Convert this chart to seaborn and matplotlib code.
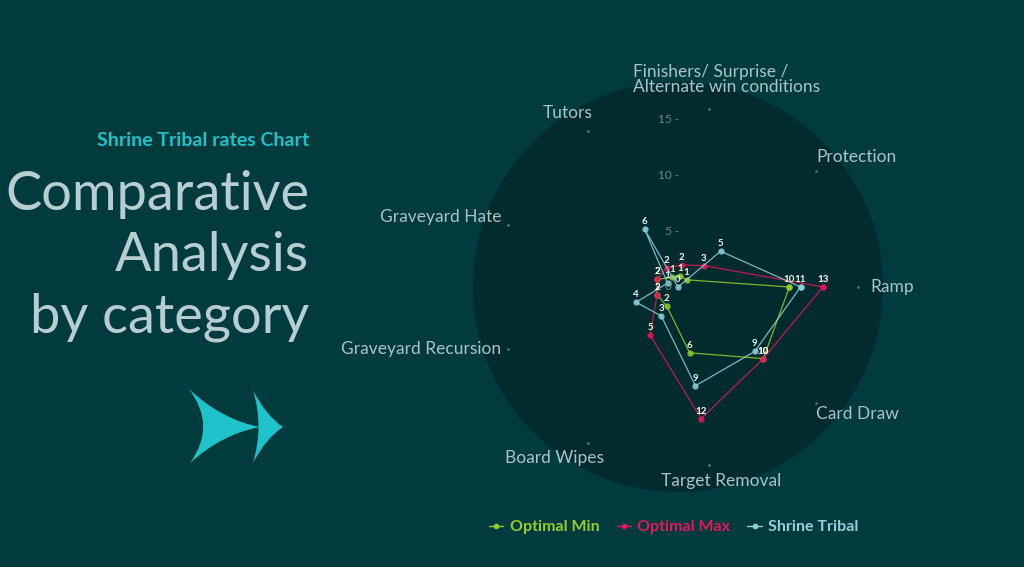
import numpy as np
import pandas as pd
import matplotlib
matplotlib.use('Agg')
import matplotlib.pyplot as plt
import seaborn as sns
from matplotlib.lines import Line2D
from matplotlib.path import Path
from matplotlib.patches import PathPatch

# categories, counter-clockwise starting at the right
CATEGORIES = ['Ramp', 'Protection', 'Finishers/ Surprise /\nAlternate win conditions',
              'Tutors', 'Graveyard Hate', 'Graveyard Recursion', 'Board Wipes',
              'Target Removal', 'Card Draw']
OPTIMAL_MIN = [10, 1, 1, 1, 2, 2, 2, 6, 10]
OPTIMAL_MAX = [13, 3, 2, 2, 2, 2, 5, 12, 10]
SHRINE_TRIBAL = [11, 5, 0, 6, 1, 4, 3, 9, 9]
SERIES_NAMES = ['Optimal Min', 'Optimal Max', 'Shrine Tribal']
RADIAL_TICKS = [0, 5, 10, 15]

BG = '#023b3d'
DISC = '#012b2d'
COLORS = {'Optimal Min': '#95cc2e', 'Optimal Max': '#e3185c', 'Shrine Tribal': '#8fd1dc'}
LABEL_TINT = {'Optimal Min': '#eef8d8', 'Optimal Max': '#ffffff', 'Shrine Tribal': '#e4f6f8'}

sns.set_theme(style='dark')
plt.rcParams['font.family'] = ['Lato', 'DejaVu Sans']

n = len(CATEGORIES)
theta = np.deg2rad(np.arange(n) * 360.0 / n)

rows = []
for name, vals in zip(SERIES_NAMES, [OPTIMAL_MIN, OPTIMAL_MAX, SHRINE_TRIBAL]):
    for i, v in enumerate(list(vals) + [vals[0]]):
        t = theta[i] if i < n else 2 * np.pi
        rows.append({'series': name, 'theta': t, 'value': v})
df = pd.DataFrame(rows)

fig = plt.figure(figsize=(10.24, 5.67), dpi=100)
fig.patch.set_facecolor(BG)
ax = fig.add_axes([0.4619, 0.1323, 0.4004, 0.7231], projection='polar')
ax.set_facecolor(DISC)

sns.lineplot(data=df, x='theta', y='value', hue='series', palette=COLORS,
             sort=False, estimator=None, units='series', lw=0.9, alpha=0.85,
             marker='o', markersize=4.5, markeredgewidth=0, legend=False, ax=ax)

ax.set_ylim(0, 18.4)
ax.grid(False)
ax.spines['polar'].set_visible(False)
ax.set_xticks([])
ax.set_yticks([])
ax.set_xlabel('')
ax.set_ylabel('')

# data labels
for name, vals in zip(SERIES_NAMES, [OPTIMAL_MIN, OPTIMAL_MAX, SHRINE_TRIBAL]):
    for t, v in zip(theta, vals):
        ax.annotate(str(v), (t, v), xytext=(0, 3), textcoords='offset pixels',
                    ha='center', va='bottom', fontsize=7, fontweight='bold',
                    color=LABEL_TINT[name], zorder=5)

# radial tick labels along the vertical
for v in RADIAL_TICKS:
    ax.annotate(f'{v} -', (np.pi / 2, v), xytext=(1, 0), textcoords='offset pixels',
                ha='right', va='center', fontsize=8.5, color='#7fa2a5', alpha=0.8)

# category labels with small tick marks
LABEL_R = 16.2
offsets = [(12, 0, 'left'), (0, 14, 'left'), (-76, 30, 'left'), (5, 18, 'right'),
           (-7, 8, 'right'), (-7, 0, 'right'), (-33, -15, 'center'), (12, -16, 'center'),
           (0, -11, 'left')]
for t, lab, (dx, dy, ha) in zip(theta, CATEGORIES, offsets):
    ax.plot([t], [LABEL_R], marker='o', ms=1.0, color='#4f7679', clip_on=False)
    ax.annotate(lab, (t, LABEL_R), xytext=(dx, dy), textcoords='offset pixels',
                ha=ha, va='center', fontsize=12.5, color='#a9c4c7',
                linespacing=0.95, multialignment='left', annotation_clip=False)

# legend
handles = [Line2D([0], [0], color=COLORS[s], lw=1, marker='o', ms=3) for s in SERIES_NAMES]
leg = fig.legend(handles, SERIES_NAMES, loc='center', bbox_to_anchor=(0.658, 0.0705),
                 ncol=3, frameon=False, handlelength=0.9, handletextpad=0.4,
                 columnspacing=1.07, labelcolor='linecolor',
                 prop={'family': 'Lato', 'weight': 'bold', 'size': 11.5})

# left-hand titles
fig.text(309 / 1024, 1 - 140 / 567, 'Shrine Tribal rates Chart', ha='right', va='center',
         fontsize=14, fontweight='bold', color='#1fc0c6')
for i, line in enumerate(['Comparative', 'Analysis', 'by category']):
    fig.text(309 / 1024, 1 - (210 + 61.5 * i) / 567, line, ha='right', va='baseline',
             fontsize=39, color='#b6ced2')

# arrow icon (two concave arrowheads)
def px(x, y):
    return (x / 1024, 1 - y / 567)

arrow_paths = [
    [(189, 389), (222, 420), (260, 427), (222, 434), (190, 463), (217, 426), (189, 389)],
    [(253, 390), (266, 416), (283, 427), (266, 438), (253, 463), (264, 426), (253, 390)],
]
codes = [Path.MOVETO] + [Path.CURVE3] * 6
for pts in arrow_paths:
    patch = PathPatch(Path([px(*p) for p in pts], codes), facecolor='#1dc3c9',
                      edgecolor='none', transform=fig.transFigure)
    fig.patches.append(patch)

fig.savefig('out.png', dpi=100, facecolor=BG)
